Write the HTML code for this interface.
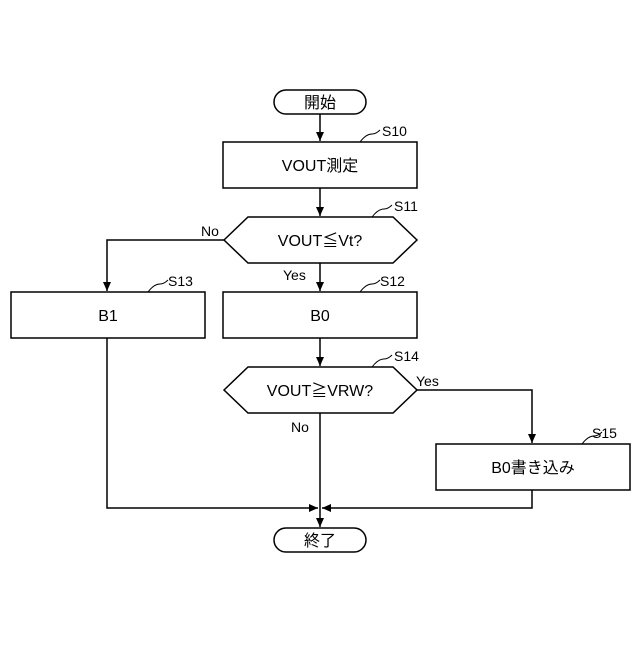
<!DOCTYPE html>
<html><head><meta charset="utf-8"><style>
body{margin:0;background:#fff}
svg text{font-family:"Liberation Sans","Noto Sans CJK JP",sans-serif;fill:#000}
</style></head><body>
<svg width="640" height="640" viewBox="0 0 640 640" xmlns="http://www.w3.org/2000/svg">
<defs><marker id="a" markerWidth="10" markerHeight="10" refX="9" refY="5" orient="auto" markerUnits="userSpaceOnUse"><path d="M0,1 L9,5 L0,9 z" fill="#000"/></marker></defs>
<g fill="none" stroke="#000" stroke-width="1.5">
<rect x="274" y="90" width="92" height="24" rx="12"/>
<rect x="223" y="142" width="194" height="46"/>
<polygon points="224,240 248,217 393,217 417,240 393,263 248,263"/>
<rect x="11" y="292" width="194" height="46"/>
<rect x="223" y="292" width="194" height="46"/>
<polygon points="224,390 248,367 393,367 417,390 393,413 248,413"/>
<rect x="436" y="444" width="194" height="46"/>
<rect x="274" y="528" width="92" height="24" rx="12"/>
<line x1="320" y1="114" x2="320" y2="141" marker-end="url(#a)"/>
<line x1="320" y1="188" x2="320" y2="216" marker-end="url(#a)"/>
<line x1="320" y1="263" x2="320" y2="291" marker-end="url(#a)"/>
<line x1="320" y1="338" x2="320" y2="366" marker-end="url(#a)"/>
<polyline points="224,240 107,240 107,291" marker-end="url(#a)"/>
<polyline points="417,390 532,390 532,443" marker-end="url(#a)"/>
<line x1="320" y1="413" x2="320" y2="527" marker-end="url(#a)"/>
<polyline points="107,338 107,508 318,508" marker-end="url(#a)"/>
<polyline points="532,490 532,508 322,508" marker-end="url(#a)"/>
<path d="M360,142 q6,-8 12,-8 q4,0 8,-4" stroke-width="1"/>
<path d="M372,217 q6,-8 12,-8 q4,0 8,-4" stroke-width="1"/>
<path d="M148,292 q6,-8 12,-8 q4,0 8,-4" stroke-width="1"/>
<path d="M360,292 q6,-8 12,-8 q4,0 8,-4" stroke-width="1"/>
<path d="M372,367 q6,-8 12,-8 q4,0 8,-4" stroke-width="1"/>
<path d="M582,444 q6,-8 12,-8 q4,0 8,-4" stroke-width="1"/>
</g>
<g font-size="16" text-anchor="middle">
<text x="320" y="108">開始</text>
<text x="320" y="171">VOUT測定</text>
<text x="320" y="246">VOUT≦Vt?</text>
<text x="108" y="321">B1</text>
<text x="320" y="321">B0</text>
<text x="320" y="396">VOUT≧VRW?</text>
<text x="533" y="473">B0書き込み</text>
<text x="320" y="546">終了</text>
</g>
<g font-size="14">
<text x="382" y="136">S10</text>
<text x="394" y="211">S11</text>
<text x="168" y="286">S13</text>
<text x="380" y="286">S12</text>
<text x="394" y="361">S14</text>
<text x="592" y="438">S15</text>
<text x="201" y="236">No</text>
<text x="283" y="280">Yes</text>
<text x="416" y="386">Yes</text>
<text x="291" y="432">No</text>
</g>
</svg>
</body></html>
